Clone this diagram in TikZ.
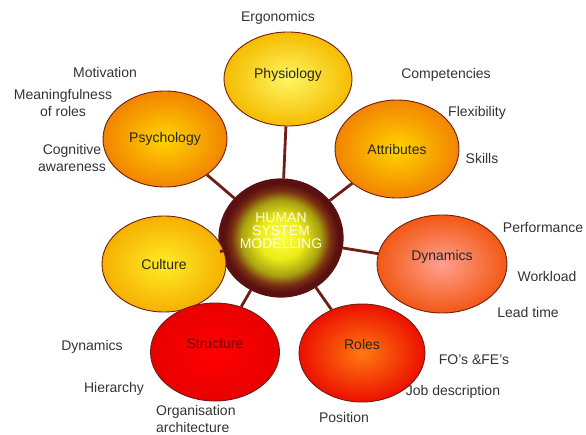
\documentclass[tikz,border=0pt]{standalone}
\usepackage{fontspec}
\setmainfont{Liberation Sans}
\usetikzlibrary{shapes.geometric}

\definecolor{spokecol}{HTML}{6E1E14}
\definecolor{hubA}{HTML}{FFFF40}
\definecolor{hubB}{HTML}{ECEC18}
\definecolor{hubC}{HTML}{A8A010}
\definecolor{hubD}{HTML}{7A3012}
\definecolor{hubE}{HTML}{5A1010}
\pgfdeclareradialshading{hubshade}{\pgfpoint{0bp}{0bp}}{color(0bp)=(hubA); color(9bp)=(hubB); color(16bp)=(hubC); color(20bp)=(hubD); color(23bp)=(hubE); color(25bp)=(hubE); color(50bp)=(hubE)}

\tikzset{
  bubble/.style={draw=spokecol,line width=0.9pt,ellipse,inner sep=0pt,font=\fontsize{14}{17}\selectfont,text=black!85},
  hub/.style={draw=hubE,line width=1.2pt,ellipse,inner sep=0pt,minimum width=124pt,minimum height=118pt,shading=hubshade,align=center,text=white!92!yellow,font=\fontsize{14}{17}\selectfont},
  spoke/.style={draw=spokecol,line width=2.8pt},
  item/.style={font=\fontsize{14}{17}\selectfont,text=black!80,inner sep=0pt}
}

\begin{document}
\begin{tikzpicture}[x=1pt,y=-1pt]
  \useasboundingbox (0,0) rectangle (586,435);

  \node[hub] at (281,238) (hub) {\raisebox{14pt}{\shortstack{HUMAN\\SYSTEM\\MODELLING}}};

  \node[bubble,minimum width=128pt,minimum height=94pt,inner color={rgb,255:red,255;green,246;blue,100},outer color={rgb,255:red,245;green,188;blue,0}] at (288,79) (phys) {\raisebox{11pt}{Physiology}};
  \node[bubble,minimum width=124pt,minimum height=96pt,inner color={rgb,255:red,255;green,212;blue,0},outer color={rgb,255:red,242;green,132;blue,0}] at (165,139) (psych) {Psychology};
  \node[bubble,minimum width=124pt,minimum height=98pt,inner color={rgb,255:red,255;green,212;blue,0},outer color={rgb,255:red,242;green,132;blue,0}] at (397,149) (attr) {Attributes};
  \node[bubble,minimum width=124pt,minimum height=96pt,inner color={rgb,255:red,255;green,236;blue,40},outer color={rgb,255:red,245;green,176;blue,0}] at (164,264) (cult) {Culture};
  \node[bubble,minimum width=130pt,minimum height=98pt,inner color={rgb,255:red,255;green,160;blue,144},outer color={rgb,255:red,242;green,88;blue,20}] at (442,264) (dyn) {\raisebox{18pt}{Dynamics}};
  \node[bubble,minimum width=126pt,minimum height=98pt,inner color={rgb,255:red,255;green,122;blue,16},outer color={rgb,255:red,236;green,16;blue,0}] at (362,353) (roles) {\raisebox{18pt}{Roles}};
  \node[bubble,minimum width=129pt,minimum height=98pt,inner color={rgb,255:red,255;green,0;blue,0},outer color={rgb,255:red,232;green,0;blue,0},text={rgb,255:red,110;green,0;blue,0}] at (215,352) (struct) {\raisebox{16pt}{Structure}};

  \draw[spoke] (hub) -- (phys); \draw[spoke] (hub) -- (psych);
  \draw[spoke] (hub) -- (attr); \draw[spoke] (hub) -- (cult);
  \draw[spoke] (hub) -- (dyn); \draw[spoke] (hub) -- (roles);
  \draw[spoke] (hub) -- (struct);

  \node[item] at (278,18) (ergo) {Ergonomics};
  \node[item] at (105,73) (motiv) {Motivation};
  \node[item,align=center] at (63,103) (mean) {Meaningfulness\\of roles};
  \node[item,align=center] at (72,158) (cogn) {Cognitive\\awareness};
  \node[item] at (446,75) (comp) {Competencies};
  \node[item] at (477,113) (flex) {Flexibility};
  \node[item] at (482,158) (skill) {Skills};
  \node[item] at (543,228) (perf) {Performance};
  \node[item] at (547,276) (work) {Workload};
  \node[item] at (528,312) (lead) {Lead time};
  \node[item] at (474,360) (fofe) {FO's \&FE's};
  \node[item] at (453,392) (job) {Job description};
  \node[item] at (344,417) (posn) {Position};
  \node[item] at (92,347) (sdyn) {Dynamics};
  \node[item] at (114,389) (hier) {Hierarchy};
  \node[item,align=left,anchor=west] at (156,419) (orga) {Organisation\\architecture};

\end{tikzpicture}
\end{document}
